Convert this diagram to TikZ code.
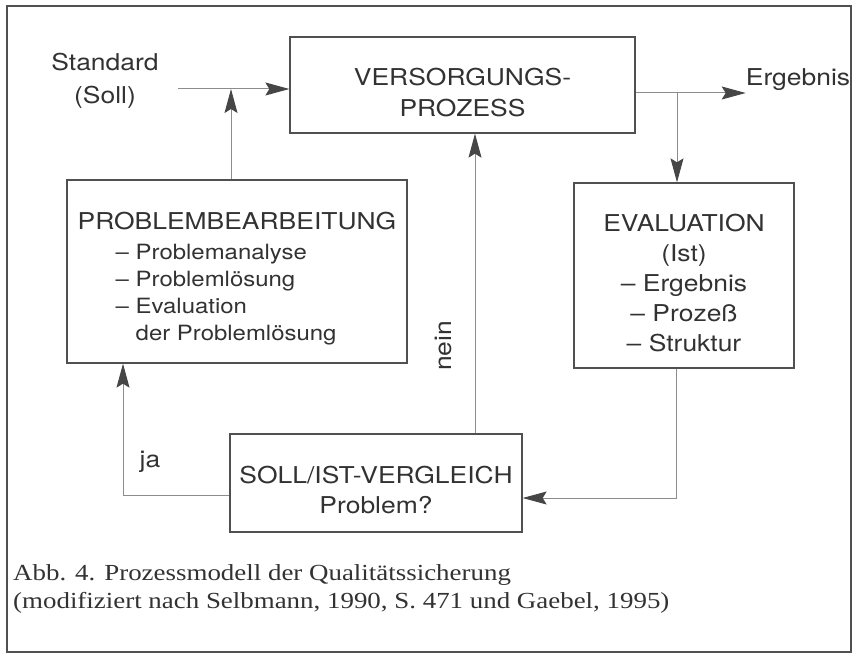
\documentclass[tikz,border=0pt]{standalone}
\usepackage{fontspec}
\setmainfont[FakeStretch=1.14]{TeX Gyre Heros}
\newfontfamily\capfont[FakeStretch=1.17]{Liberation Serif}
\usepackage{tikz}
\usetikzlibrary{arrows.meta, positioning}
\definecolor{cText}{RGB}{50,50,50}
\definecolor{cBox}{RGB}{80,80,80}
\definecolor{cLine}{RGB}{140,140,140}
\definecolor{cTip}{RGB}{70,70,70}
\newcommand{\boxlift}{\rule{0pt}{32pt}}
\newcommand{\probitem}[1]{\hspace*{38pt}{\fontsize{21}{27}\selectfont #1}}
\tikzset{
	procbox/.style={rectangle, draw=cBox, line width=1.3pt, align=center, text=cText, inner sep=0pt},
	lbl/.style    ={text=cText, inner sep=0pt, align=center},
	flow/.style   ={-{Stealth[length=24pt, width=13pt, inset=4pt, color=cTip]}, draw=cLine, line width=1pt},
	frame/.style  ={draw=cBox, line width=1.8pt},
}
\begin{document}
\begin{tikzpicture}[x=1pt, y=-1pt, font=\fontsize{23.2}{30}\selectfont]
	\useasboundingbox (0,0) rectangle (856,655);
	\draw[frame] (7,6) rectangle (851,652);
	% boxes
	\node[procbox, minimum width=345pt, minimum height=96pt] (vp) at (462.5,85) {\boxlift VERSORGUNGS-\\[1pt]PROZESS};
	\node[procbox, align=left, minimum width=340pt, minimum height=183pt] (pb) at (237,271.5) {\boxlift PROBLEMBEARBEITUNG\\
		\probitem{-- Problemanalyse}\\[-3pt]\probitem{-- Problemlösung}\\[-3pt]\probitem{-- Evaluation}\\[-3pt]\probitem{\hphantom{-- }der Problemlösung}};
	\node[procbox, minimum width=220pt, minimum height=185pt] (ev) at (684,275.5) {\boxlift EVALUATION\\(Ist)\\-- Ergebnis\\-- Prozeß\\-- Struktur};
	\node[procbox, minimum width=292pt, minimum height=98pt] (si) at (376,483) {\boxlift SOLL/IST-VERGLEICH\\Problem?};
	% free labels
	\node[lbl] (std) at (105,81) {Standard\\[3pt](Soll)};
	\node[lbl] (erg) at (798,80) {Ergebnis};
	\node[lbl, rotate=90] (nein) at (443,346) {nein};
	\node[lbl] (ja) at (150,462) {ja};
	\coordinate (soll) at (178,89);
	\coordinate (split) at (677,93);
	% connectors
	\draw[flow] (soll) -- (vp.west |- soll);
	\draw[flow] ([xshift=-6pt]pb.north) -- ([xshift=-6pt]pb.north |- soll);
	\draw[flow] (vp.east |- split) -- (erg.west |- split);
	\draw[flow] (split) -- (split |- ev.north);
	\draw[flow] ([xshift=-8pt]ev.south) |- ([yshift=-15pt]si.east);
	\draw[flow] ([xshift=12.5pt]vp.south |- si.north) -- ([xshift=12.5pt]vp.south);
	\draw[flow] ([yshift=-12pt]si.west) -| ([xshift=-114pt]pb.south);
	% caption
	\node[lbl, anchor=west, align=left, font=\capfont\fontsize{23}{28}\selectfont] (cap) at (13,589)
		{Abb. 4. Prozessmodell der Qualitätssicherung\\(modifiziert nach Selbmann, 1990, S. 471 und Gaebel, 1995)};
\end{tikzpicture}
\end{document}
